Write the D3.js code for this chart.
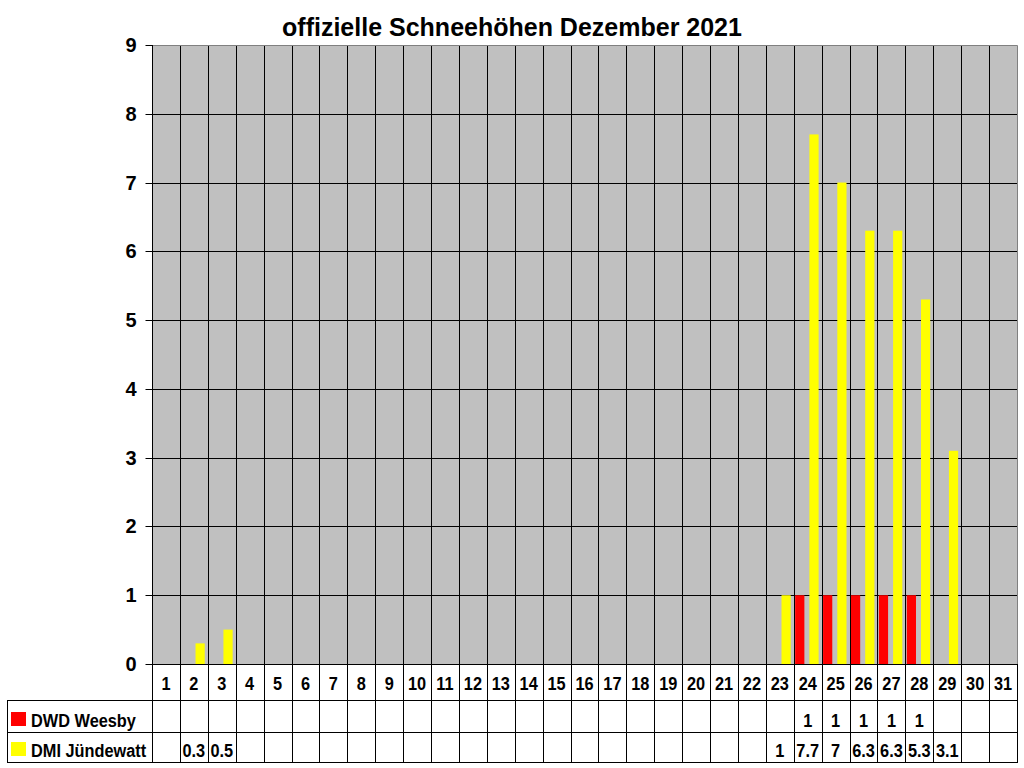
<!DOCTYPE html>
<html>
<head>
<meta charset="utf-8">
<script src="https://cdn.jsdelivr.net/npm/d3@7"></script>
<style>
  body { margin: 0; background: #fff; }
  text { font-family: "Liberation Sans", Arial, sans-serif; font-weight: bold; }
</style>
</head>
<body>
<div id="chart"></div>
<script>
var days = d3.range(1, 32).map(String);
var dwdWeesby = [null,null,null,null,null,null,null,null,null,null,null,null,null,null,null,null,null,null,null,null,null,null,null,1,1,1,1,1,null,null,null];
var dmiJuendewatt = [null,0.3,0.5,null,null,null,null,null,null,null,null,null,null,null,null,null,null,null,null,null,null,null,1,7.7,7,6.3,6.3,5.3,3.1,null,null];
var seriesNames = ["DWD Weesby", "DMI Jündewatt"];
var seriesColors = ["#ff0000", "#ffff00"];
var yTicks = d3.range(0, 10);

var W = 1024, H = 768;
var pLeft = 152, pRight = 1017, pTop = 45, pBottom = 664;
var rowH = [664, 700, 732, 762];
var squeeze = 0.86; // table text looks horizontally condensed

var svg = d3.select("#chart").append("svg").attr("width", W).attr("height", H);

var x = d3.scaleBand().domain(days).range([pLeft, pRight]);
var y = d3.scaleLinear().domain([0, 9]).range([pBottom, pTop]);
var bw = x.bandwidth();

function squeezedText(px, py, str, anchor) {
  return svg.append("text")
    .attr("transform", "translate(" + px + "," + py + ") scale(" + squeeze + ",1)")
    .attr("text-anchor", anchor || "start")
    .attr("font-size", 19)
    .text(str);
}

// plot background
svg.append("rect")
  .attr("x", pLeft).attr("y", pTop)
  .attr("width", pRight - pLeft).attr("height", pBottom - pTop)
  .attr("fill", "#c0c0c0");

// horizontal grid
svg.selectAll("line.hgrid")
  .data(yTicks.slice(1, -1))
  .enter().append("line")
  .attr("x1", pLeft).attr("x2", pRight)
  .attr("y1", d => Math.round(y(d)) + 0.5).attr("y2", d => Math.round(y(d)) + 0.5)
  .attr("stroke", "#000");

// vertical grid (through plot and table)
svg.selectAll("line.vgrid")
  .data(days.slice(1))
  .enter().append("line")
  .attr("x1", d => Math.round(x(d)) + 0.5).attr("x2", d => Math.round(x(d)) + 0.5)
  .attr("y1", pTop).attr("y2", rowH[3])
  .attr("stroke", "#000");

// bars
var series = [dwdWeesby, dmiJuendewatt];
var offsets = [0.05, 0.56];
series.forEach(function(vals, si) {
  svg.selectAll("rect.s" + si)
    .data(vals.map((v, i) => ({ day: days[i], v: v })).filter(d => d.v != null))
    .enter().append("rect")
    .attr("x", d => x(d.day) + bw * offsets[si])
    .attr("y", d => y(d.v))
    .attr("width", bw * 0.33)
    .attr("height", d => pBottom - y(d.v))
    .attr("fill", seriesColors[si]);
});

// plot border top/right
svg.append("path")
  .attr("d", "M" + pLeft + "," + (pTop + 0.5) + "H" + (pRight + 0.5) + "V" + pBottom)
  .attr("fill", "none").attr("stroke", "#808080");

// y axis
var yAxis = svg.append("g").attr("transform", "translate(" + (pLeft + 0.5) + ",0)");
yAxis.append("line").attr("y1", pTop).attr("y2", pBottom).attr("stroke", "#000");
yAxis.selectAll("line.tick")
  .data(yTicks).enter().append("line")
  .attr("x1", -7).attr("x2", 0)
  .attr("y1", d => Math.round(y(d)) + 0.5).attr("y2", d => Math.round(y(d)) + 0.5)
  .attr("stroke", "#000");
yAxis.selectAll("text")
  .data(yTicks).enter().append("text")
  .attr("x", -16).attr("y", d => y(d) + 7)
  .attr("text-anchor", "end").attr("font-size", 20)
  .text(d => d);

// table lines
rowH.forEach(function(yy, i) {
  svg.append("line")
    .attr("x1", i === 0 ? pLeft : 7).attr("x2", pRight + 1)
    .attr("y1", yy + 0.5).attr("y2", yy + 0.5)
    .attr("stroke", "#000");
});
svg.append("line").attr("x1", pLeft + 0.5).attr("x2", pLeft + 0.5)
  .attr("y1", rowH[0]).attr("y2", rowH[3]).attr("stroke", "#000");
svg.append("line").attr("x1", pRight + 0.5).attr("x2", pRight + 0.5)
  .attr("y1", rowH[0]).attr("y2", rowH[3] + 1).attr("stroke", "#000");
svg.append("line").attr("x1", 7.5).attr("x2", 7.5)
  .attr("y1", rowH[1]).attr("y2", rowH[3] + 1).attr("stroke", "#000");

// category labels
days.forEach(function(d) {
  squeezedText(x(d) + bw / 2, 690, d, "middle");
});

// table rows
var rowBase = [727, 757];
series.forEach(function(vals, si) {
  svg.append("rect")
    .attr("x", 11).attr("y", rowBase[si] - 15)
    .attr("width", 15).attr("height", 14)
    .attr("fill", seriesColors[si]);
  squeezedText(31, rowBase[si], seriesNames[si]);
  vals.forEach(function(v, i) {
    if (v != null) squeezedText(x(days[i]) + bw / 2, rowBase[si], v, "middle");
  });
});

// title
svg.append("text")
  .attr("x", 512).attr("y", 36)
  .attr("text-anchor", "middle").attr("font-size", 25)
  .text("offizielle Schneehöhen Dezember 2021");
</script>
</body>
</html>
